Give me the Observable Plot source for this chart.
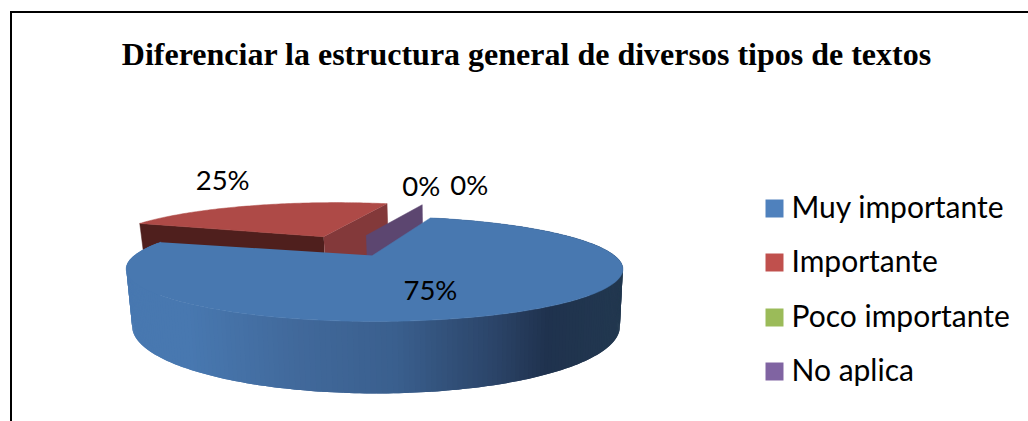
<!DOCTYPE html>
<html><head><meta charset="utf-8">
<style>html,body{margin:0;padding:0;background:#fff;overflow:hidden}svg{display:block}</style>
<script src="https://cdn.jsdelivr.net/npm/d3@7"></script>
<script src="https://cdn.jsdelivr.net/npm/@observablehq/plot@0.6"></script>
</head><body><div id="chart"></div>
<script>
const chartTitle = "Diferenciar la estructura general de diversos tipos de textos";
const categories = ["Muy importante", "Importante", "Poco importante", "No aplica"];
const values = [75, 25, 0, 0];
const legendColors = ["#4f81bd", "#c0504d", "#9bbb59", "#8064a2"];

const W = 1028, H = 421;
// 3D pie camera
const cx = 372, cy = 255, R = 240, depth = 49, persp = 0.257, thick = 53.5, shrink = 0.982, startDeg = 17;
const rad = d => d * Math.PI / 180;
const total = d3.sum(values);
const world = (deg, r, off) => [r * Math.sin(rad(deg)) + off[0], r * Math.cos(rad(deg)) + off[1]];
function projTop([X, Z]) { const s = 1 / (1 + persp * Z); return {x: cx + R * X * s, y: cy - depth * Z * s}; }
function projBottom([X, Z]) { const s = 1 / (1 + persp * Z); return {x: cx + 1.5 + (R * shrink) * X * s, y: cy - depth * Z * s + thick * s}; }

let acc = startDeg;
const slices = values.map((v, i) => { const a0 = acc; acc += v / total * 360; return {i, v, a0, a1: acc, mid: (a0 + acc) / 2}; });
const [blue, red] = slices;
const centre = [0, 0];
const rimShift = [0.008, 0];
const redOff = [0.48 * Math.sin(rad(red.mid)), 0.48 * Math.cos(rad(red.mid))];
const redRimOff = [redOff[0] + 0.016, redOff[1] + 0.07];
const redRimTrim = 0;
const zeroOff = [-0.03, 0.456];
const zeroRimOff = [zeroOff[0] + 0.02, zeroOff[1]];

const poly = [], strips = [];
const add = (list, id, color, pts) => pts.forEach(p => list.push({id, color, x: p.x, y: p.y}));
const arc = (a0, a1, off) => d3.range(a0, a1 + 1e-6, 1).map(a => world(a, 1, off));

// red slice: walls first, then its top face
const rA = projTop(redOff), rAb = projBottom(redOff);
const redLeft = world(red.a0 + redRimTrim, 1, redRimOff), redRight = world(red.a1, 1, redRimOff);
add(poly, "red-front", "#4f1f1d", [rA, projTop(redLeft), projBottom(redLeft), rAb]);
add(poly, "red-side", "#83393a", [rA, projTop(redRight), projBottom(redRight), rAb]);
add(poly, "red-top", "#ae4a47", [rA, ...arc(red.a0 + redRimTrim, red.a1, redRimOff).map(projTop)]);
// zero slices only show a cut wall
const zA = projTop(zeroOff), zR = world(red.a1, 1, zeroRimOff);
add(poly, "zero-wall", "#5c4670", [zA, projTop(zR), projBottom(zR), projBottom(zeroOff)]);
// blue slice: shaded rim strips then top face
const sideStops = [[127,"#4878b0"],[190,"#4878b0"],[300,"#41699b"],[400,"#3a5f8e"],[500,"#2b4468"],[550,"#1f324e"],[625,"#22384f"]];
const sideColor = d3.scaleLinear().domain(sideStops.map(d => d[0])).range(sideStops.map(d => d[1])).interpolate(d3.interpolateRgb).clamp(true);
const bluePts = arc(blue.a0, blue.a1, rimShift);
const order = d3.range(bluePts.length - 1).sort((p, q) => projTop(bluePts[p]).x - projTop(bluePts[q]).x);
for (const k of order) {
  const a = bluePts[k], b = bluePts[Math.min(k + 2, bluePts.length - 1)];
  add(strips, "s" + k, sideColor((projTop(a).x + projTop(bluePts[k + 1]).x) / 2), [projTop(a), projTop(bluePts[k + 1]), projTop(b), projBottom(b), projBottom(bluePts[k + 1]), projBottom(a)]);
}
const blueTop = [];
add(blueTop, "blue-top", "#4878b0", [projTop(centre), ...bluePts.map(projTop)]);

// labels hang off the projected slice positions
const redLabelAnchor = projTop(world(red.mid + 8, 1, redOff));
const zeroAnchor = projTop(zR);
const labelAnchors = [projTop(world(blue.mid, 0.65, centre)), {x: redLabelAnchor.x - 49, y: redLabelAnchor.y - 25}, {x: zeroAnchor.x - 1, y: zeroAnchor.y - 18}, {x: zeroAnchor.x + 47, y: zeroAnchor.y - 19}];
const labelNudge = [[-28, 3], [0, 0], [0, 0], [0, 0]];
const labels = values.map((v, i) => ({text: v + "%", x: labelAnchors[i].x + labelNudge[i][0], y: labelAnchors[i].y + labelNudge[i][1]}));

const legendX = 774, legendTextX = 791, legendY = [208, 262, 317, 371];
const legend = categories.map((c, i) => ({c, color: legendColors[i], y: legendY[i]}));

const labelFont = "Lato, Carlito, sans-serif";
const plot = Plot.plot({
  width: W, height: H, margin: 0,
  x: {domain: [0, W], range: [0, W], axis: null},
  y: {domain: [0, H], range: [0, H], axis: null},
  color: {type: "identity"},
  style: {background: "#fff"},
  marks: [
    Plot.ruleX([10.5], {y1: 11.5, y2: H, stroke: "#000", strokeWidth: 2}),
    Plot.ruleY([11.5], {x1: 10, x2: W, stroke: "#000", strokeWidth: 2}),
    Plot.line(poly, {x: "x", y: "y", z: "id", fill: "color", stroke: "color", strokeWidth: 0.5, curve: "linear"}),
    Plot.line(strips, {x: "x", y: "y", z: "id", fill: "color", stroke: "none", curve: "linear"}),
    Plot.line(blueTop, {x: "x", y: "y", z: "id", fill: "color", stroke: "color", strokeWidth: 0.5, curve: "linear"}),
    Plot.text([chartTitle], {x: 526, y: 54, text: d => d, fontFamily: "Liberation Serif", fontWeight: "bold", fontSize: 32, fill: "#000", textAnchor: "middle", lineAnchor: "middle"}),
    Plot.text(labels, {x: "x", y: "y", text: "text", fontFamily: labelFont, fontSize: 27.5, fill: "#000", textAnchor: "middle", lineAnchor: "middle"}),
    Plot.dot(legend, {x: legendX, y: "y", symbol: "square", r: 10.15, fill: "color", stroke: null}),
    Plot.text(legend, {x: legendTextX, y: "y", text: "c", fontFamily: labelFont, fontSize: 30, fill: "#000", textAnchor: "start", lineAnchor: "middle"})
  ]
});
document.getElementById("chart").append(plot);
</script></body></html>
